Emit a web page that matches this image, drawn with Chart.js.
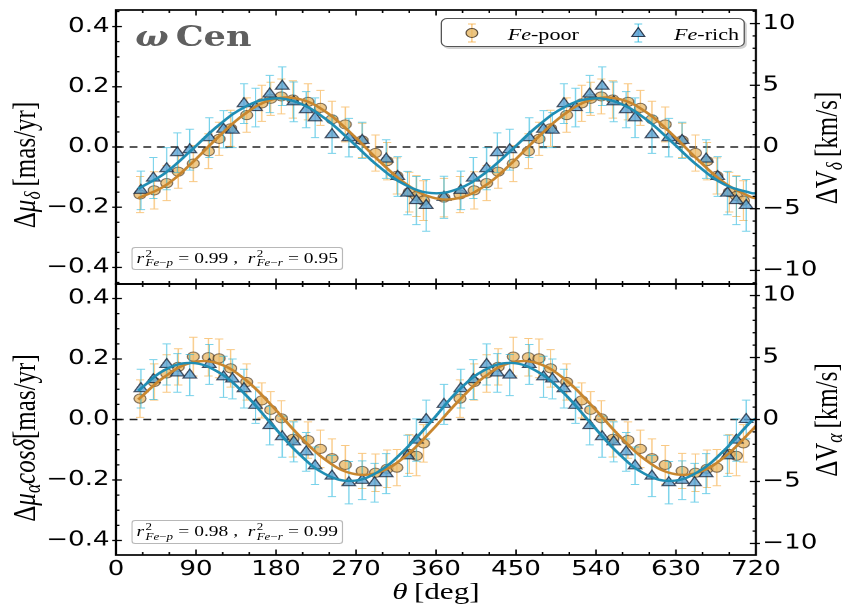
<!DOCTYPE html>
<html><head><meta charset="utf-8">
<script src="https://cdn.jsdelivr.net/npm/chart.js@4.4.1/dist/chart.umd.min.js"></script>
<style>
html,body{margin:0;padding:0;background:#fff;}
body{width:849px;height:606px;overflow:hidden;position:relative;}
#wrap{position:absolute;left:0;top:0;width:653px;height:606px;transform:scaleX(1.3);transform-origin:0 0;}
#wrap canvas{position:absolute;left:0;}
.serif{font-family:"Liberation Serif","Times New Roman",serif;color:#000;position:absolute;white-space:nowrap;line-height:1;}
.ytitle{transform:translate(-50%,-50%) rotate(-90deg);font-size:25px;}
.ytitle sub{font-size:0.7em;vertical-align:-0.25em;}
.box{position:absolute;border:1px solid rgba(0,0,0,0.28);border-radius:3px;background:rgba(255,255,255,0.85);box-sizing:border-box;display:flex;align-items:center;justify-content:center;font-family:"Liberation Serif","Times New Roman",serif;font-size:15px;white-space:nowrap;}
.ss{display:inline-block;vertical-align:-6px;line-height:0.95;font-size:10px;margin:0 1px 0 1px;}
.ss span{display:block;}
#legend{position:absolute;left:338.5px;top:18px;width:234.6px;height:29px;border:1.2px solid #555;border-radius:5px;box-sizing:border-box;background:#fff;box-shadow:1.5px 2px 0 rgba(0,0,0,0.18);}
#legend svg{position:absolute;top:2px;}
#legend .lt{position:absolute;top:6px;font-size:17px;font-family:"Liberation Serif","Times New Roman",serif;white-space:nowrap;}
</style></head>
<body>
<div id="wrap">
<canvas id="top" width="653" height="292" style="top:0px;width:653px;height:292px"></canvas>
<canvas id="bot" width="653" height="332" style="top:274px;width:653px;height:332px"></canvas>

<div class="serif" style="left:104px;top:23px;font-family:'DejaVu Serif',serif;font-size:27px;font-weight:bold;color:#5f5f5f;"><i>ω</i>&thinsp;Cen</div>

<div id="legend">
  <svg width="16" height="24" style="left:15px" viewBox="0 0 16 24">
    <g stroke="rgba(245,165,50,0.7)" stroke-width="1"><line x1="8" y1="3" x2="8" y2="21"/><line x1="5" y1="3" x2="11" y2="3"/><line x1="5" y1="21" x2="11" y2="21"/></g>
    <circle cx="8" cy="12" r="4.5" fill="rgba(230,182,100,0.8)" stroke="rgba(50,35,20,0.75)" stroke-width="1"/>
  </svg>
  <div class="lt" style="left:51px"><i>Fe</i>-poor</div>
  <svg width="16" height="24" style="left:143.5px" viewBox="0 0 16 24">
    <g stroke="rgba(30,180,220,0.7)" stroke-width="1"><line x1="8" y1="3" x2="8" y2="21"/><line x1="5" y1="3" x2="11" y2="3"/><line x1="5" y1="21" x2="11" y2="21"/></g>
    <polygon points="8,6.5 13,15.5 3,15.5" fill="rgba(90,160,210,0.85)" stroke="rgba(20,30,50,0.85)" stroke-width="1"/>
  </svg>
  <div class="lt" style="left:179px"><i>Fe</i>-rich</div>
</div>

<div class="box" style="left:101.3px;top:246.5px;width:162.5px;height:23px;">
  <i>r</i><span class="ss"><span>2</span><span><i>Fe</i>−<i>p</i></span></span>&thinsp;= 0.99&nbsp;,&nbsp;&nbsp;<i>r</i><span class="ss"><span>2</span><span><i>Fe</i>−<i>r</i></span></span>&thinsp;= 0.95
</div>
<div class="box" style="left:101.3px;top:519.5px;width:162.5px;height:24px;">
  <i>r</i><span class="ss"><span>2</span><span><i>Fe</i>−<i>p</i></span></span>&thinsp;= 0.98&nbsp;,&nbsp;&nbsp;<i>r</i><span class="ss"><span>2</span><span><i>Fe</i>−<i>r</i></span></span>&thinsp;= 0.99
</div>

<div class="serif ytitle" style="left:20px;top:165px;">Δ<i>μ</i><sub><i>δ</i></sub>&thinsp;[mas/yr]</div>
<div class="serif ytitle" style="left:20px;top:438px;">Δ<i>μ</i><sub><i>α</i></sub><i>cosδ</i>[mas/yr]</div>
<div class="serif ytitle" style="left:637px;top:148px;">ΔV<sub><i>δ</i></sub>&thinsp;[km/s]</div>
<div class="serif ytitle" style="left:637px;top:420px;">ΔV<sub><i>α</i></sub>&thinsp;[km/s]</div>
<div class="serif" style="left:335.4px;top:591px;transform:translate(-50%,-50%);font-size:24px;"><i>θ</i>&thinsp;[deg]</div>
</div>

<script>
// ---------------- data ----------------
const THETA_POOR = [27, 43, 57, 70, 87, 104, 116, 129, 147, 164, 174, 186, 199, 216, 230, 243, 258, 277, 292, 305, 316, 330, 338, 346,
  369,
  387, 403, 417, 430, 447, 464, 476, 489, 507, 524, 534, 546, 559, 576, 590, 603, 618, 637, 652, 665, 676, 690, 698, 706];
const THETA_RICH = [28, 42, 57, 69, 83, 105, 121, 131, 144, 157, 173, 187, 200, 214, 224, 243, 262, 277, 291, 304, 317, 328, 338, 349,
  369,
  388, 402, 417, 429, 443, 465, 481, 491, 504, 517, 533, 547, 560, 574, 584, 603, 622, 637, 651, 664, 677, 688, 698, 709];

// upper panel: delta mu_delta [mas/yr]
const DMU_DEC_POOR = [-0.158, -0.144, -0.120, -0.082, -0.055, -0.014, 0.027, 0.062, 0.106, 0.145, 0.160, 0.168, 0.158, 0.150, 0.130, 0.092, 0.075, 0.022, -0.020, -0.047, -0.096, -0.150, -0.163, -0.178,
  -0.168,
  -0.158, -0.144, -0.120, -0.082, -0.055, -0.014, 0.027, 0.062, 0.106, 0.145, 0.160, 0.168, 0.158, 0.150, 0.130, 0.092, 0.075, 0.022, -0.020, -0.047, -0.096, -0.150, -0.163, -0.178];
const ERR_DEC_POOR = [0.060, 0.062, 0.058, 0.055, 0.060, 0.058, 0.055, 0.060, 0.057, 0.060, 0.055, 0.058, 0.062, 0.060, 0.058, 0.060, 0.058, 0.057, 0.060, 0.062, 0.060, 0.066, 0.068, 0.066,
  0.064,
  0.060, 0.062, 0.058, 0.055, 0.060, 0.058, 0.055, 0.060, 0.057, 0.060, 0.055, 0.058, 0.062, 0.060, 0.058, 0.060, 0.058, 0.057, 0.060, 0.062, 0.060, 0.066, 0.068, 0.066];
const DMU_DEC_RICH = [-0.144, -0.103, -0.072, -0.019, -0.009, 0.031, 0.059, 0.056, 0.144, 0.131, 0.176, 0.202, 0.150, 0.124, 0.097, 0.041, 0.031, 0.022, null, -0.040, -0.098, -0.153, -0.178, -0.194,
  -0.167,
  -0.144, -0.103, -0.072, -0.019, -0.009, 0.031, 0.059, 0.056, 0.144, 0.131, 0.176, 0.202, 0.150, 0.124, 0.097, 0.041, 0.031, 0.022, null, -0.040, -0.098, -0.153, -0.178, -0.194];
const ERR_DEC_RICH = [0.064, 0.068, 0.070, 0.066, 0.068, 0.066, 0.062, 0.058, 0.066, 0.064, 0.062, 0.064, 0.066, 0.060, 0.066, 0.062, 0.064, 0.060, 0.064, 0.064, 0.066, 0.072, 0.080, 0.086,
  0.070,
  0.064, 0.068, 0.070, 0.066, 0.068, 0.066, 0.062, 0.058, 0.066, 0.064, 0.062, 0.064, 0.066, 0.060, 0.066, 0.062, 0.064, 0.060, 0.064, 0.064, 0.066, 0.072, 0.080, 0.086];

// lower panel: delta mu_alpha cos(delta) [mas/yr]
const DMU_RA_POOR = [0.069, 0.124, 0.152, 0.174, 0.208, 0.206, 0.202, 0.169, 0.124, 0.063, 0.032, 0.004, -0.064, -0.068, -0.097, -0.128, -0.150, -0.170, -0.176, -0.163, -0.159, -0.114, -0.120, -0.079,
  null,
  0.069, 0.124, 0.152, 0.174, 0.208, 0.206, 0.202, 0.169, 0.124, 0.063, 0.032, 0.004, -0.064, -0.068, -0.097, -0.128, -0.150, -0.170, -0.176, -0.163, -0.159, -0.114, -0.120, -0.079];
const ERR_RA_POOR = [0.062, 0.060, 0.062, 0.060, 0.064, 0.062, 0.064, 0.062, 0.060, 0.058, 0.060, 0.058, 0.060, 0.060, 0.062, 0.064, 0.064, 0.058, 0.062, 0.062, 0.060, 0.064, 0.066, 0.062,
  0.060,
  0.062, 0.060, 0.062, 0.060, 0.064, 0.062, 0.064, 0.062, 0.060, 0.058, 0.060, 0.058, 0.060, 0.060, 0.062, 0.064, 0.064, 0.058, 0.062, 0.062, 0.060, 0.064, 0.066, 0.062];
const DMU_RA_RICH = [0.102, 0.132, 0.182, 0.154, 0.147, 0.182, 0.141, 0.134, 0.102, 0.047, -0.020, -0.057, -0.074, -0.107, -0.153, -0.187, -0.209, -0.201, -0.209, -0.179, null, -0.120, -0.068, 0.000,
  0.050,
  0.102, 0.132, 0.182, 0.154, 0.147, 0.182, 0.141, 0.134, 0.102, 0.047, -0.020, -0.057, -0.074, -0.107, -0.153, -0.187, -0.209, -0.201, -0.209, -0.179, null, -0.120, -0.068, 0.000];
const ERR_RA_RICH = [0.064, 0.066, 0.068, 0.064, 0.068, 0.066, 0.068, 0.066, 0.064, 0.060, 0.064, 0.068, 0.066, 0.064, 0.062, 0.068, 0.070, 0.064, 0.064, 0.066, 0.066, 0.068, 0.070, 0.064,
  0.066,
  0.064, 0.066, 0.068, 0.064, 0.068, 0.066, 0.068, 0.066, 0.064, 0.060, 0.064, 0.068, 0.066, 0.064, 0.062, 0.068, 0.070, 0.064, 0.064, 0.066, 0.066, 0.068, 0.070, 0.064];

// fitted curves
const FIT_THETA = [25, 55, 85, 115, 145, 175, 205, 235, 265, 295, 325, 355, 385, 415, 445, 475, 505, 535, 565, 595, 625, 655, 685, 715, 720];
const FIT_DEC_POOR = [-0.170, -0.129, -0.054, 0.033, 0.110, 0.157, 0.160, 0.119, 0.044, -0.043, -0.120, -0.167, -0.170, -0.129, -0.054, 0.033, 0.110, 0.157, 0.160, 0.119, 0.044, -0.043, -0.120, -0.167, -0.170];
const FIT_DEC_RICH = [-0.139, -0.087, -0.010, 0.071, 0.133, 0.161, 0.147, 0.095, 0.018, -0.063, -0.125, -0.153, -0.139, -0.087, -0.010, 0.071, 0.133, 0.161, 0.147, 0.095, 0.018, -0.063, -0.125, -0.153, -0.154];
const FIT_RA_POOR = [0.066, 0.142, 0.188, 0.185, 0.133, 0.047, -0.050, -0.132, -0.178, -0.175, -0.123, -0.037, 0.060, 0.142, 0.188, 0.185, 0.133, 0.047, -0.050, -0.132, -0.178, -0.175, -0.123, -0.037, -0.021];
const FIT_RA_RICH = [0.095, 0.164, 0.187, 0.157, 0.084, -0.015, -0.111, -0.180, -0.203, -0.173, -0.100, -0.005, 0.095, 0.164, 0.187, 0.157, 0.084, -0.015, -0.111, -0.180, -0.203, -0.173, -0.100, -0.005, 0.003];

const X_TICKS = [0, 90, 180, 270, 360, 450, 540, 630, 720];

// ---------------- helpers ----------------
const S = 1.3;                 // horizontal stretch of the figure
const PLOT_LEFT = 116 / S, PLOT_RIGHT = 756 / S, PAGE_W = 849 / S;
const pts = (xs, ys) => xs.map((x, i) => ({x: x, y: ys[i]}));
const minus = s => s.replace('-', '\u2212');

const C_POOR_FILL = 'rgba(232,182,98,0.75)', C_POOR_EDGE = 'rgba(50,35,20,0.6)', C_POOR_ERR = 'rgba(245,165,50,0.6)', C_POOR_LINE = '#c8862e';
const C_RICH_FILL = 'rgba(90,160,210,0.78)', C_RICH_EDGE = 'rgba(20,30,50,0.75)', C_RICH_ERR = 'rgba(30,180,220,0.6)', C_RICH_LINE = '#1f8db3';

const errorBars = {
  id: 'errorBars',
  beforeDatasetDraw(chart, args) {
    const ds = chart.data.datasets[args.index];
    if (!ds.errors) return;
    const meta = args.meta, ys = chart.scales[meta.yAxisID], ctx = chart.ctx;
    ctx.save();
    ctx.strokeStyle = ds.errorColor; ctx.lineWidth = 1;
    meta.data.forEach((p, i) => {
      const v = ds.data[i].y, e = ds.errors[i];
      if (v === null || e === null || p.skip) return;
      const yt = ys.getPixelForValue(v + e), yb = ys.getPixelForValue(v - e);
      ctx.beginPath();
      ctx.moveTo(p.x, yt); ctx.lineTo(p.x, yb);
      ctx.moveTo(p.x - 3.2, yt); ctx.lineTo(p.x + 3.2, yt);
      ctx.moveTo(p.x - 3.2, yb); ctx.lineTo(p.x + 3.2, yb);
      ctx.stroke();
    });
    ctx.restore();
  }
};

const frame = {
  id: 'frame',
  afterDraw(chart) {
    const ctx = chart.ctx, a = chart.chartArea, xs = chart.scales.x, yl = chart.scales.y, yr = chart.scales.y2;
    ctx.save();
    ctx.strokeStyle = '#000';
    const seg = (x1, y1, x2, y2) => { ctx.beginPath(); ctx.moveTo(x1, y1); ctx.lineTo(x2, y2); ctx.stroke(); };
    ctx.lineWidth = 1.2;
    for (let t = 0; t <= 720; t += 30) {
      const px = xs.getPixelForValue(t), L = (t % 90 === 0) ? 5.5 : 3;
      seg(px, a.top, px, a.top + L);
      seg(px, a.bottom, px, a.bottom - L);
    }
    ctx.lineWidth = 1.3;
    for (let k = -9; k <= 9; k++) {
      const v = k * 0.05; if (v < yl.min || v > yl.max) continue;
      const py = yl.getPixelForValue(v), major = (k % 4 === 0);
      if (major) seg(a.left - 3, py, a.left + 4.6, py); else seg(a.left, py, a.left + 2.6, py);
    }
    for (let k = -11; k <= 11; k++) {
      if (k < yr.min || k > yr.max) continue;
      const py = yr.getPixelForValue(k), major = (k % 5 === 0);
      if (major) seg(a.right + 3, py, a.right - 4.6, py); else seg(a.right, py, a.right - 2.6, py);
    }
    ctx.lineWidth = 1.7;
    ctx.strokeRect(a.left, a.top, a.right - a.left, a.bottom - a.top);
    ctx.restore();
  }
};

const noPad = s => { s.paddingTop = 0; s.paddingBottom = 0; s.paddingLeft = 0; s.paddingRight = 0; };

function panel(id, o) {
  const tickFont = {family: 'DejaVu Sans', size: 20};
  return new Chart(document.getElementById(id), {
    type: 'scatter',
    data: {
      datasets: [
        {data: [{x: 0, y: 0}, {x: 720, y: 0}], showLine: true, borderColor: '#222', borderWidth: 1.5, borderDash: [6, 4.5], pointRadius: 0, order: 10},
        {data: pts(THETA_POOR, o.poor), errors: o.poorErr, errorColor: C_POOR_ERR, pointStyle: 'circle', pointRadius: 4.6,
         backgroundColor: C_POOR_FILL, borderColor: C_POOR_EDGE, borderWidth: 1, order: 5},
        {data: pts(THETA_RICH, o.rich), errors: o.richErr, errorColor: C_RICH_ERR, pointStyle: 'triangle', pointRadius: 6,
         backgroundColor: C_RICH_FILL, borderColor: C_RICH_EDGE, borderWidth: 1.1, order: 4},
        {data: pts(FIT_THETA, o.fitPoor), showLine: true, tension: 0.4, borderColor: C_POOR_LINE, borderWidth: 2.4, pointRadius: 0, order: 2},
        {data: pts(FIT_THETA, o.fitRich), showLine: true, tension: 0.4, borderColor: C_RICH_LINE, borderWidth: 2.4, pointRadius: 0, order: 1}
      ]
    },
    options: {
      responsive: false, animation: false, devicePixelRatio: 2, events: [],
      layout: {padding: {top: 10, bottom: o.padBottom, left: 0, right: 0}},
      plugins: {legend: {display: false}, tooltip: {enabled: false}},
      scales: {
        x: {type: 'linear', min: 0, max: 720, display: o.showX, position: 'bottom',
            afterBuildTicks: s => { s.ticks = X_TICKS.map(v => ({value: v})); },
            afterFit: s => { noPad(s); if (o.showX) s.height = o.xHeight; },
            ticks: {font: tickFont, color: '#000', padding: 3, maxRotation: 0, autoSkip: false},
            grid: {display: false, drawTicks: false}, border: {display: false}},
        y: {type: 'linear', position: 'left', min: -o.lim, max: o.lim,
            afterFit: s => { noPad(s); s.width = PLOT_LEFT; },
            ticks: {stepSize: 0.2, includeBounds: false, font: tickFont, color: '#000', padding: 5,
                    callback: v => Math.abs(v) < 1e-9 ? '0.0' : minus(v.toFixed(1))},
            grid: {display: false, drawTicks: false}, border: {display: false}},
        y2: {type: 'linear', position: 'right', min: -o.lim2, max: o.lim2,
            afterFit: s => { noPad(s); s.width = PAGE_W - PLOT_RIGHT; },
            ticks: {stepSize: 5, includeBounds: false, font: tickFont, color: '#000', padding: 5,
                    callback: v => Math.abs(v) < 1e-9 ? '0' : minus(String(Math.round(v)))},
            grid: {display: false, drawTicks: false}, border: {display: false}}
      }
    },
    plugins: [errorBars, frame]
  });
}

panel('top', {poor: DMU_DEC_POOR, poorErr: ERR_DEC_POOR, rich: DMU_DEC_RICH, richErr: ERR_DEC_RICH,
  fitPoor: FIT_DEC_POOR, fitRich: FIT_DEC_RICH, lim: 0.455, lim2: 11.1, showX: false, padBottom: 8, xHeight: 0});
panel('bot', {poor: DMU_RA_POOR, poorErr: ERR_RA_POOR, rich: DMU_RA_RICH, richErr: ERR_RA_RICH,
  fitPoor: FIT_RA_POOR, fitRich: FIT_RA_RICH, lim: 0.448, lim2: 10.93, showX: true, padBottom: 0, xHeight: 51});
</script>
</body></html>
